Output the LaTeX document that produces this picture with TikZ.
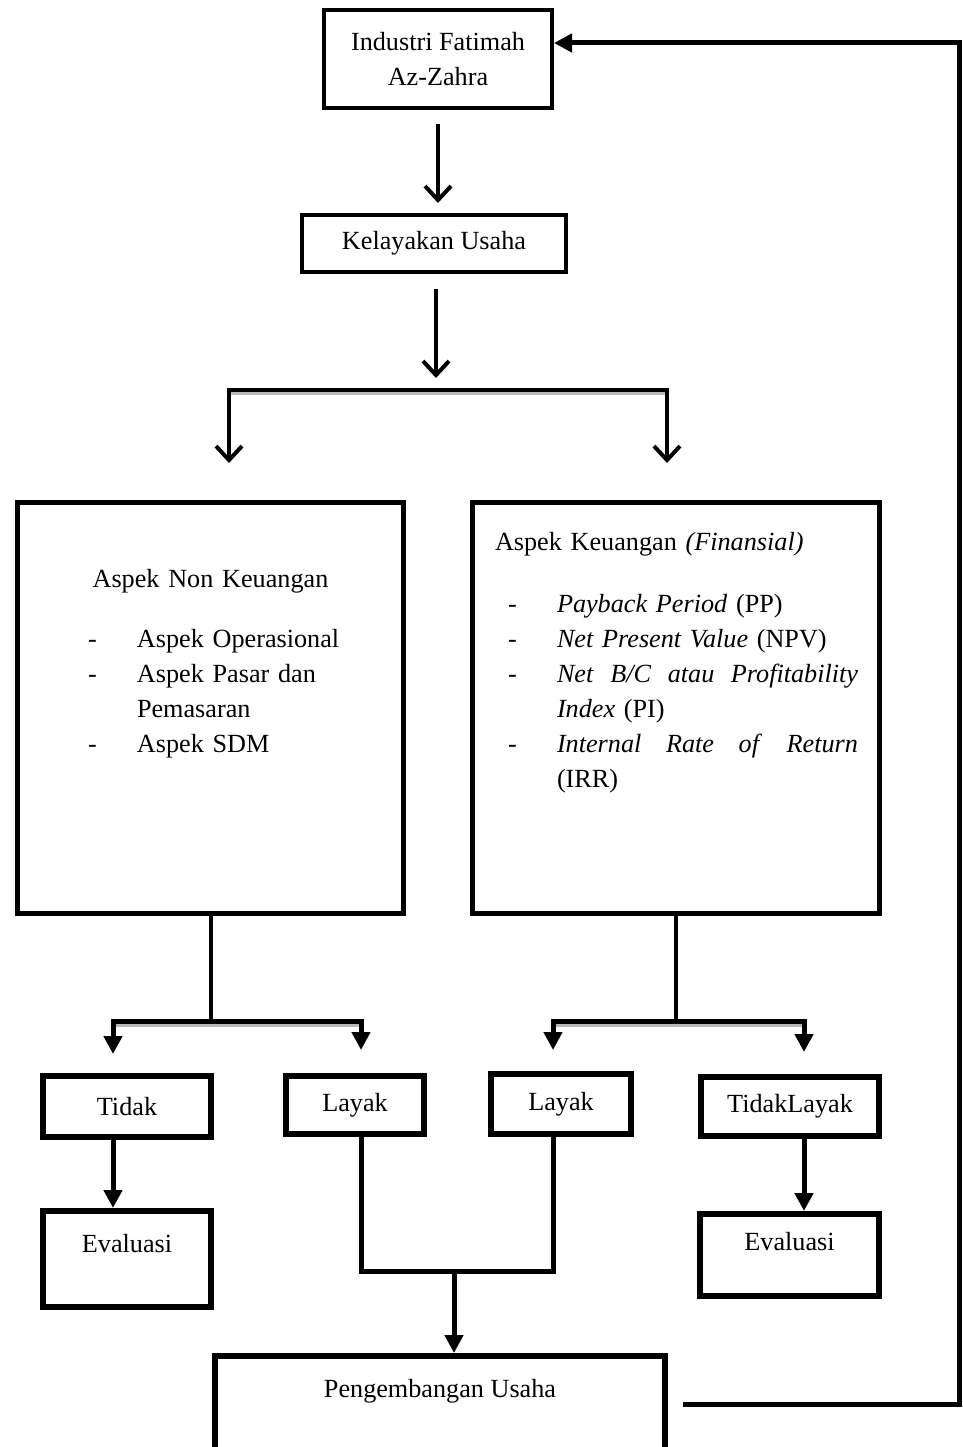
\documentclass[tikz,border=0pt]{standalone}
\usepackage{fontspec}
\setmainfont{Liberation Serif}
\usepackage{array}
\usetikzlibrary{arrows.meta}
\tikzset{
  box/.style={draw, line width=4pt, inner sep=0pt, align=center},
  bigbox/.style={draw, line width=5pt, inner sep=0pt, align=left},
  smallbox/.style={draw, line width=6pt, inner sep=0pt},
  chev/.style={line width=4pt, -{Straight Barb[length=14pt,width=26pt]}},
  tri/.style={line width=5pt, -{Triangle[length=18pt,width=18pt]}},
  link/.style={line width=4pt},
  shade/.style={draw=gray!55, line width=3pt}
}
\begin{document}
\begin{tikzpicture}[x=1pt, y=-1pt, font=\fontsize{26.2pt}{35pt}\selectfont]
    \useasboundingbox (0,0) rectangle (962,1447);
    \begin{scope}
        \clip (0,0) rectangle (962,1447);

        % top
        \node[box, minimum width=228pt, minimum height=98pt] (ifz) at (438,59) {Industri Fatimah\\Az-Zahra};
        \node[box, minimum width=264pt, minimum height=57pt] (kel) at (434,243.5) {Kelayakan Usaha};

        % aspek
        \node[bigbox, text width=386pt, text height=84.5pt, text depth=326.5pt] (nonkeu) at (210.5,708) {%
            {\centering Aspek Non Keuangan\par}
            \vspace{25pt}
            \begin{tabular}[t]{@{\hspace*{70.5pt}}p{49pt}@{}p{266pt}@{}}
            -&Aspek Operasional\\
            -&Aspek Pasar dan\newline Pemasaran\\
            -&Aspek SDM
            \end{tabular}};
        \node[bigbox, text width=407pt, text height=47.5pt, text depth=363.5pt] (keu) at (676,708) {%
            \hspace*{22.5pt}Aspek Keuangan \textit{(Finansial)}\par
            \vspace{27pt}
            \begin{tabular}[t]{@{\hspace*{35.5pt}}p{49pt}@{}p{301pt}@{}}
            -&\textit{Payback Period} (PP)\\
            -&\textit{Net Present Value} (NPV)\\
            -&\textit{Net}\hfill\textit{B/C}\hfill\textit{atau}\hfill\textit{Profitability}\newline\textit{Index} (PI)\\
            -&\textit{Internal}\hfill\textit{Rate}\hfill\textit{of}\hfill\textit{Return}\newline(IRR)
            \end{tabular}};

        % hasil
        \node[smallbox, minimum width=168pt, minimum height=61pt] (tidak) at (127,1106.5) {Tidak};
        \node[smallbox, minimum width=138pt, minimum height=58pt] (layakA) at (355,1105) {Layak};
        \node[smallbox, minimum width=140pt, minimum height=60pt] (layakB) at (561,1104) {Layak};
        \node[smallbox, minimum width=178pt, minimum height=59pt] (tlayak) at (790,1106.5) {TidakLayak};
        \node[smallbox, minimum width=168pt, text height=41pt, text depth=55pt] (evalA) at (127,1259) {Evaluasi};
        \node[smallbox, minimum width=179pt, text height=36pt, text depth=46pt] (evalB) at (789.5,1255) {Evaluasi};
        \node[smallbox, minimum width=450pt, text height=41pt, text depth=73pt] (peng) at (440,1413) {Pengembangan Usaha};

        \coordinate (fork) at (436,390);
        \coordinate (forkL) at (229,390);
        \coordinate (forkR) at (667,390);
        \coordinate (nkL) at (113,1021);
        \coordinate (nkR) at (361,1021);
        \coordinate (kL) at (553,1021);
        \coordinate (kR) at (804,1021);
        \coordinate (join) at (454,1271);
        \coordinate (loop) at (959,1404);
        \coordinate (back) at (959,43);

        % arrows
        \draw[chev, shorten <=14pt, shorten >=10pt] (ifz.south) -- (ifz.south |- kel.north);
        \draw[chev, shorten <=15pt, shorten >=12pt] (kel.south -| fork) -- (fork);
        \draw[shade] ([xshift=2pt,yshift=-3.5pt]forkL) -- ([yshift=-3.5pt]forkR);
        \draw[chev, shorten >=37pt] (fork) -| (forkL |- nonkeu.north);
        \draw[chev, shorten >=37pt] (fork) -| (forkR |- keu.north);

        \draw[shade] ([xshift=2.5pt,yshift=-4pt]nkL) -- ([yshift=-4pt]nkR);
        \draw[link] (nonkeu.south) -- (nonkeu.south |- nkL);
        \draw[tri, shorten >=19pt] (nonkeu.south |- nkL) -| (nkL |- tidak.north);
        \draw[tri, shorten >=23pt] (nonkeu.south |- nkL) -| (nkR |- layakA.north);

        \draw[shade] ([xshift=2.5pt,yshift=-4pt]kL) -- ([yshift=-4pt]kR);
        \draw[link] (keu.south) -- (keu.south |- kL);
        \draw[tri, shorten >=21pt] (keu.south |- kL) -| (kL |- layakB.north);
        \draw[tri, shorten >=22pt] (keu.south |- kL) -| (kR |- tlayak.north);

        \draw[tri] (nkL |- tidak.south) -- (nkL |- evalA.north);
        \draw[tri] (kR |- tlayak.south) -- (kR |- evalB.north);

        \draw[line width=5pt] (nkR |- layakA.south) |- (join) -| (kL |- layakB.south);
        \draw[tri] (join) -- (join |- peng.north);

        % kembali
        \draw[tri, shorten <=15pt] (peng.east |- loop) -- (loop) -- (back) -- (ifz.east |- back);
    \end{scope}
\end{tikzpicture}
\end{document}
